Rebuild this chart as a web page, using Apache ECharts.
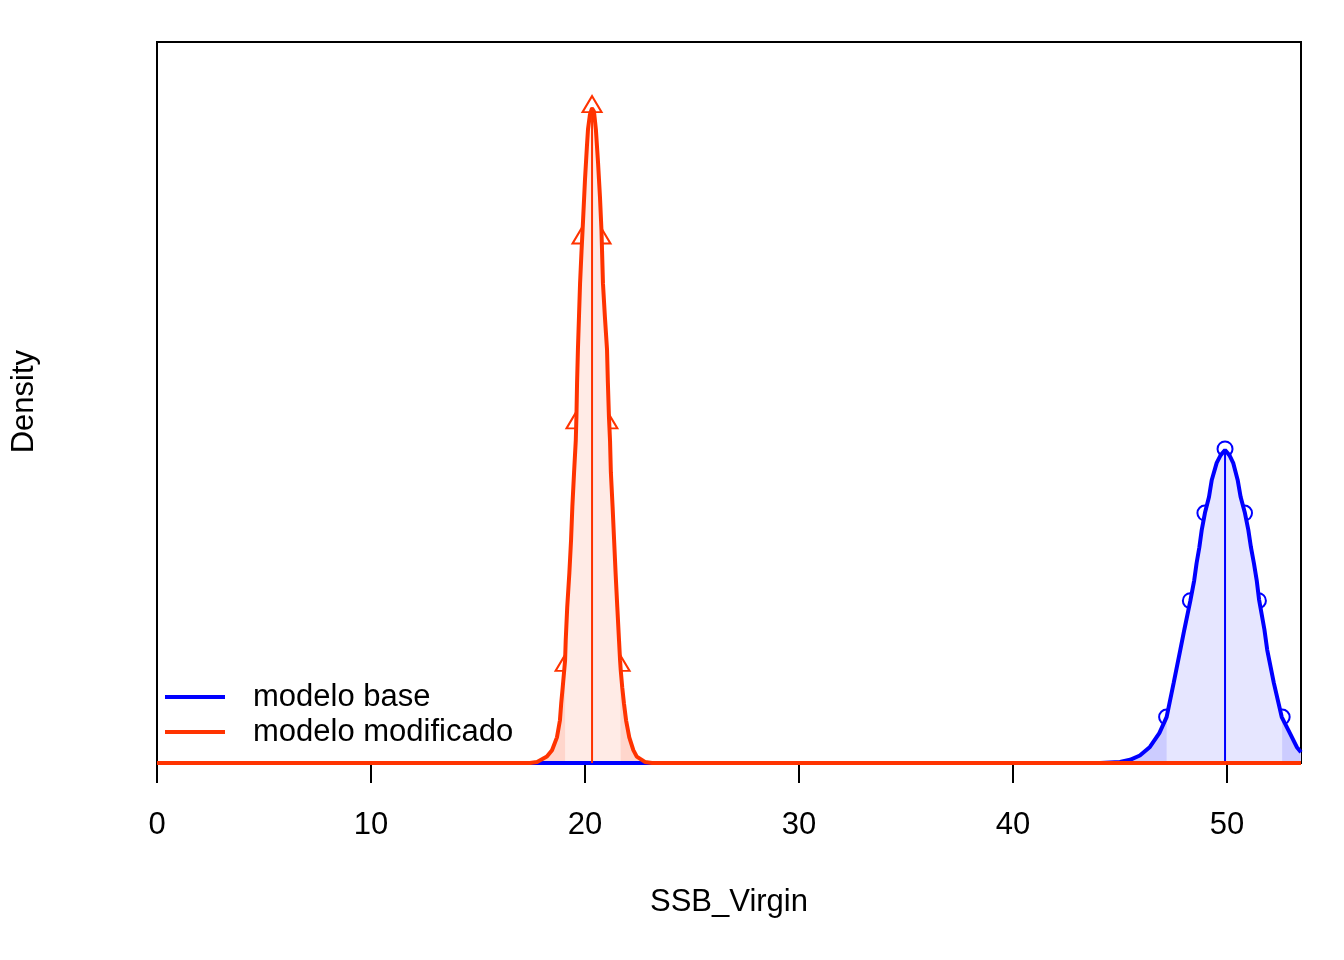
<!DOCTYPE html>
<html>
<head>
<meta charset="utf-8">
<title>SSB_Virgin</title>
<script src="https://cdn.jsdelivr.net/npm/echarts@6/dist/echarts.min.js"></script>
<style>
  html, body { margin: 0; padding: 0; background: #fff; }
  #chart { width: 1344px; height: 960px; }
</style>
</head>
<body>
<div id="chart"></div>
<script>
// x axis
var xMax = 53.46;
var xTicks = 10;
var yMax = 0.675;

// modelo base: density curve [SSB_Virgin, density]
var baseCurve = [
  [0, 0], [44.07, 0], [45.00, 0.001], [45.47, 0.003], [45.93, 0.007], [46.40, 0.015],
  [46.84, 0.028], [47.18, 0.043], [47.51, 0.075], [47.82, 0.106], [48.01, 0.125],
  [48.29, 0.152], [48.47, 0.171], [48.58, 0.187], [48.71, 0.202], [48.82, 0.218],
  [48.97, 0.234], [49.16, 0.249], [49.29, 0.265], [49.52, 0.281], [49.70, 0.288],
  [49.91, 0.293], [50.12, 0.288], [50.29, 0.281], [50.50, 0.265], [50.64, 0.249],
  [50.84, 0.234], [51.00, 0.218], [51.12, 0.202], [51.26, 0.187], [51.39, 0.171],
  [51.50, 0.153], [51.75, 0.125], [51.88, 0.106], [52.19, 0.075], [52.56, 0.043],
  [52.94, 0.028], [53.26, 0.015], [53.46, 0.010]
];
// modelo base: quantile points (2.5, 10, 25, 50, 75, 90, 97.5 %)
var baseQuant = [
  [47.18, 0.043], [48.29, 0.152], [48.97, 0.234], [49.91, 0.294],
  [50.82, 0.234], [51.47, 0.152], [52.58, 0.043]
];

// modelo modificado: density curve
var modCurve = [
  [0, 0], [17.43, 0], [17.76, 0.001], [18.22, 0.006], [18.46, 0.012], [18.69, 0.024],
  [18.83, 0.040], [18.89, 0.056], [18.96, 0.071], [19.03, 0.087], [19.07, 0.096],
  [19.10, 0.115], [19.17, 0.146], [19.27, 0.178], [19.35, 0.209], [19.41, 0.240],
  [19.49, 0.272], [19.57, 0.302], [19.60, 0.324], [19.63, 0.356], [19.67, 0.387],
  [19.72, 0.418], [19.77, 0.449], [19.84, 0.480], [19.91, 0.508], [20.00, 0.546],
  [20.09, 0.577], [20.14, 0.593], [20.23, 0.607], [20.33, 0.613], [20.42, 0.610],
  [20.51, 0.593], [20.61, 0.562], [20.70, 0.530], [20.77, 0.499], [20.84, 0.449],
  [20.93, 0.418], [21.03, 0.387], [21.07, 0.356], [21.12, 0.324], [21.17, 0.302],
  [21.21, 0.272], [21.29, 0.240], [21.36, 0.209], [21.43, 0.178], [21.51, 0.146],
  [21.59, 0.115], [21.64, 0.096], [21.67, 0.087], [21.74, 0.071], [21.82, 0.056],
  [21.92, 0.040], [22.07, 0.024], [22.26, 0.012], [22.42, 0.006], [22.80, 0.001],
  [23.13, 0], [53.46, 0]
];
var modQuant = [
  [19.07, 0.091], [19.58, 0.318], [19.86, 0.491], [20.33, 0.614],
  [20.75, 0.491], [21.07, 0.318], [21.64, 0.091]
];

var blue = '#0000FF';
var red = '#FF3300';

// tails outside the outer quantiles, closed at the quantile point
function lowTail(curve, q) {
  var lo = q[0];
  var out = curve.filter(function (p) { return p[0] < lo[0]; });
  out.push(lo);
  return out;
}
function highTail(curve, q) {
  var hi = q[q.length - 1];
  var out = [hi];
  return out.concat(curve.filter(function (p) { return p[0] > hi[0]; }));
}
function median(q) {
  var m = q[Math.floor(q.length / 2)];
  return [[m[0], 0], [m[0], m[1]]];
}

function modelSeries(name, curve, q, col, fill, tail, sym, symSize, symOff) {
  var areaOnly = function (id, data, c) {
    return {
      name: id, type: 'line', data: data, showSymbol: false, silent: true,
      lineStyle: { width: 0 }, areaStyle: { color: c, opacity: 1 }
    };
  };
  return [
    areaOnly(name + ' area', curve, fill),
    areaOnly(name + ' low', lowTail(curve, q), tail),
    areaOnly(name + ' high', highTail(curve, q), tail),
    {
      name: name + ' med', type: 'line', data: median(q), showSymbol: false,
      silent: true, lineStyle: { color: col, width: 2 }
    },
    {
      name: name, type: 'line', data: curve, showSymbol: false,
      color: col, lineStyle: { color: col, width: 4 }
    },
    {
      name: name + ' q', type: 'scatter', data: q, symbol: sym,
      symbolSize: symSize, symbolOffset: symOff, silent: true,
      itemStyle: { color: 'rgba(0,0,0,0)', borderColor: col, borderWidth: 2, opacity: 1 }
    }
  ];
}

var chart = echarts.init(document.getElementById('chart'));
var font = 'Liberation Sans, Arial, sans-serif';

chart.setOption({
  animation: false,
  backgroundColor: '#fff',
  textStyle: { fontFamily: font },
  grid: {
    left: 157, right: 43, top: 42, bottom: 197,
    show: true, borderColor: '#000', borderWidth: 2, backgroundColor: 'transparent'
  },
  xAxis: {
    type: 'value', min: 0, max: xMax, interval: xTicks,
    name: 'SSB_Virgin', nameLocation: 'middle', nameGap: 124,
    nameTextStyle: { fontSize: 31, color: '#000', fontFamily: font },
    axisLine: { show: true, lineStyle: { color: '#000', width: 2 } },
    axisTick: { show: true, inside: false, length: 20, lineStyle: { color: '#000', width: 2 } },
    axisLabel: { fontSize: 31, color: '#000', margin: 47, fontFamily: font, showMaxLabel: false },
    splitLine: { show: false }
  },
  yAxis: {
    type: 'value', min: 0, max: yMax, show: false, splitLine: { show: false }
  },
  legend: {
    data: ['modelo base', 'modelo modificado'],
    orient: 'vertical', left: 160, top: 676,
    icon: 'rect', itemWidth: 60, itemHeight: 4, itemGap: 3,
    textStyle: { fontSize: 31, color: '#000', fontFamily: font, lineHeight: 32,
                 padding: [0, 0, 0, 23] }
  },
  graphic: [{
    type: 'text', left: 9, top: 350, rotation: Math.PI / 2,
    style: { text: 'Density', fill: '#000', font: '31px ' + font }
  }],
  series: []
    .concat(modelSeries('modelo base', baseCurve, baseQuant, blue, '#E6E6FF', '#CCCCFF',
                        'circle', 15, [0, 0]))
    .concat(modelSeries('modelo modificado', modCurve, modQuant, red, '#FFEBE6', '#FFD6CC',
                        'triangle', [19, 16], [0, -3]))
});
</script>
</body>
</html>
